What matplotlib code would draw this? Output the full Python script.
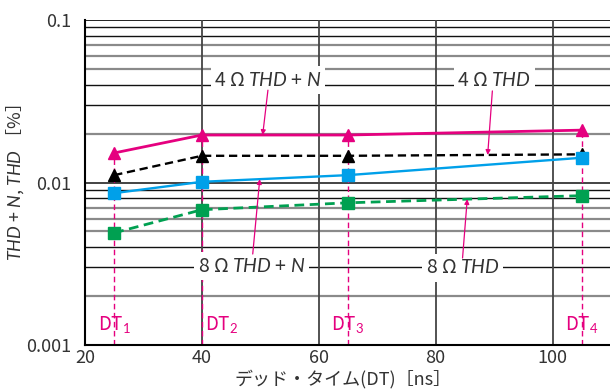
import numpy as np
import matplotlib
matplotlib.use("Agg")
import matplotlib.pyplot as plt

plt.rcParams['font.family'] = ['Noto Sans CJK JP', 'DejaVu Sans']
plt.rcParams['mathtext.fontset'] = 'custom'
plt.rcParams['mathtext.it'] = 'Lato:italic'
plt.rcParams['mathtext.rm'] = 'Lato'

# dead time settings (ns)
dead_time = [25, 40, 65, 105]
dt_labels = ["DT$_1$", "DT$_2$", "DT$_3$", "DT$_4$"]

# distortion (%)
thdn_4ohm = [0.0152, 0.0196, 0.0196, 0.0210]
thd_4ohm = [0.0111, 0.0146, 0.0146, 0.0149]
thdn_8ohm = [0.0086, 0.0101, 0.0111, 0.0142]
thd_8ohm = [0.0049, 0.0068, 0.0075, 0.0083]

x_ticks = [20, 40, 60, 80, 100]
y_ticks = [0.001, 0.01, 0.1]
y_ticklabels = ["0.001", "0.01", "0.1"]

MAGENTA = '#E5007F'
CYAN = '#00A0E9'
GREEN = '#00A051'
TEXT = '#333333'

fig = plt.figure(figsize=(6.10, 3.89), dpi=100)
ax = fig.add_axes([85 / 610, 1 - 345 / 389, 526 / 610, 325 / 389])
ax.set_yscale('log')
ax.set_xlim(20, 110)
ax.set_ylim(0.001, 0.1)

# horizontal grid: alternating black / grey rules
for dec in [0.001, 0.01]:
    for m in range(2, 10):
        v = dec * m
        if m in (2, 5, 6, 7):
            ax.axhline(v, color='#8a8a8a', lw=1.6, zorder=1)
        else:
            ax.axhline(v, color='#111111', lw=1.0, zorder=1)
ax.axhline(0.01, color='#111111', lw=1.1, zorder=1)
ax.axhline(0.1, color='#111111', lw=1.3, zorder=1)
for xv in [40, 60, 80, 100]:
    ax.axvline(xv, color='#444444', lw=1.3, zorder=1)

for s in ['top', 'right']:
    ax.spines[s].set_visible(False)
ax.spines['left'].set_linewidth(1.5)
ax.spines['bottom'].set_linewidth(1.5)

ax.set_xticks(x_ticks)
ax.set_xticklabels([str(v) for v in x_ticks])
ax.set_yticks(y_ticks)
ax.set_yticklabels(y_ticklabels)
ax.yaxis.set_minor_locator(matplotlib.ticker.NullLocator())
ax.tick_params(axis='both', length=0, labelsize=13, colors=TEXT)
ax.tick_params(axis='x', pad=3)
ax.tick_params(axis='y', pad=10)

# dead-time markers
for x, top in zip(dead_time, thdn_4ohm):
    ax.plot([x, x], [0.001, top], color=MAGENTA, lw=1.0,
            linestyle=(0, (4, 2.5)), zorder=2)
dt_offsets = [0, 3.4, 0, 0]
for x, lab, off in zip(dead_time, dt_labels, dt_offsets):
    ax.text(x + off, 0.00133, lab, color=MAGENTA, fontsize=13.5,
            ha='center', va='center', zorder=5)

# series
ax.plot(dead_time, thdn_4ohm, color=MAGENTA, lw=2.0, marker='^', ms=9, zorder=4)
ax.plot(dead_time, thd_4ohm, color='black', lw=1.7, ls=(0, (3.5, 2)),
        marker='^', ms=9, zorder=4)
ax.plot(dead_time, thdn_8ohm, color=CYAN, lw=1.7, marker='s', ms=8.5, zorder=4)
ax.plot(dead_time, thd_8ohm, color=GREEN, lw=2.0, ls=(0, (3.5, 2)),
        marker='s', ms=8.5, zorder=4)


def on_series(xs, ys, xq):
    return 10 ** np.interp(xq, xs, np.log10(ys))


labels = [
    ("4 Ω $\\mathit{THD}$ + $\\mathit{N}$", 51.3, 0.0425, (51.3, 0.037), 50.4, thdn_4ohm),
    ("4 Ω $\\mathit{THD}$", 90.0, 0.0425, (89.7, 0.0366), 88.9, thd_4ohm),
    ("8 Ω $\\mathit{THD}$ + $\\mathit{N}$", 48.5, 0.00305, (48.7, 0.00363), 49.9, thdn_8ohm),
    ("8 Ω $\\mathit{THD}$", 84.6, 0.00298, (84.6, 0.00343), 85.4, thd_8ohm),
]
for txt, lx, ly, tail, tipx, series in labels:
    ax.text(lx, ly, txt, fontsize=14, color=TEXT, ha='center', va='center',
            zorder=6, bbox=dict(facecolor='white', edgecolor='none', pad=2.5))
    ax.annotate('', xy=(tipx, on_series(dead_time, series, tipx)), xytext=tail,
                arrowprops=dict(arrowstyle='-|>', color=MAGENTA, lw=0.9,
                                mutation_scale=7, shrinkA=0, shrinkB=0),
                zorder=6)

ax.set_xlabel("デッド・タイム(DT)［ns］", fontsize=13, color=TEXT)
ax.xaxis.set_label_coords(0.49, -0.075)
ax.set_ylabel("$\\mathit{THD}$ + $\\mathit{N}$, $\\mathit{THD}$ ［%］",
              fontsize=13, color=TEXT)
ax.yaxis.set_label_coords(-0.112, 0.5)

fig.savefig("out.png", dpi=100)
